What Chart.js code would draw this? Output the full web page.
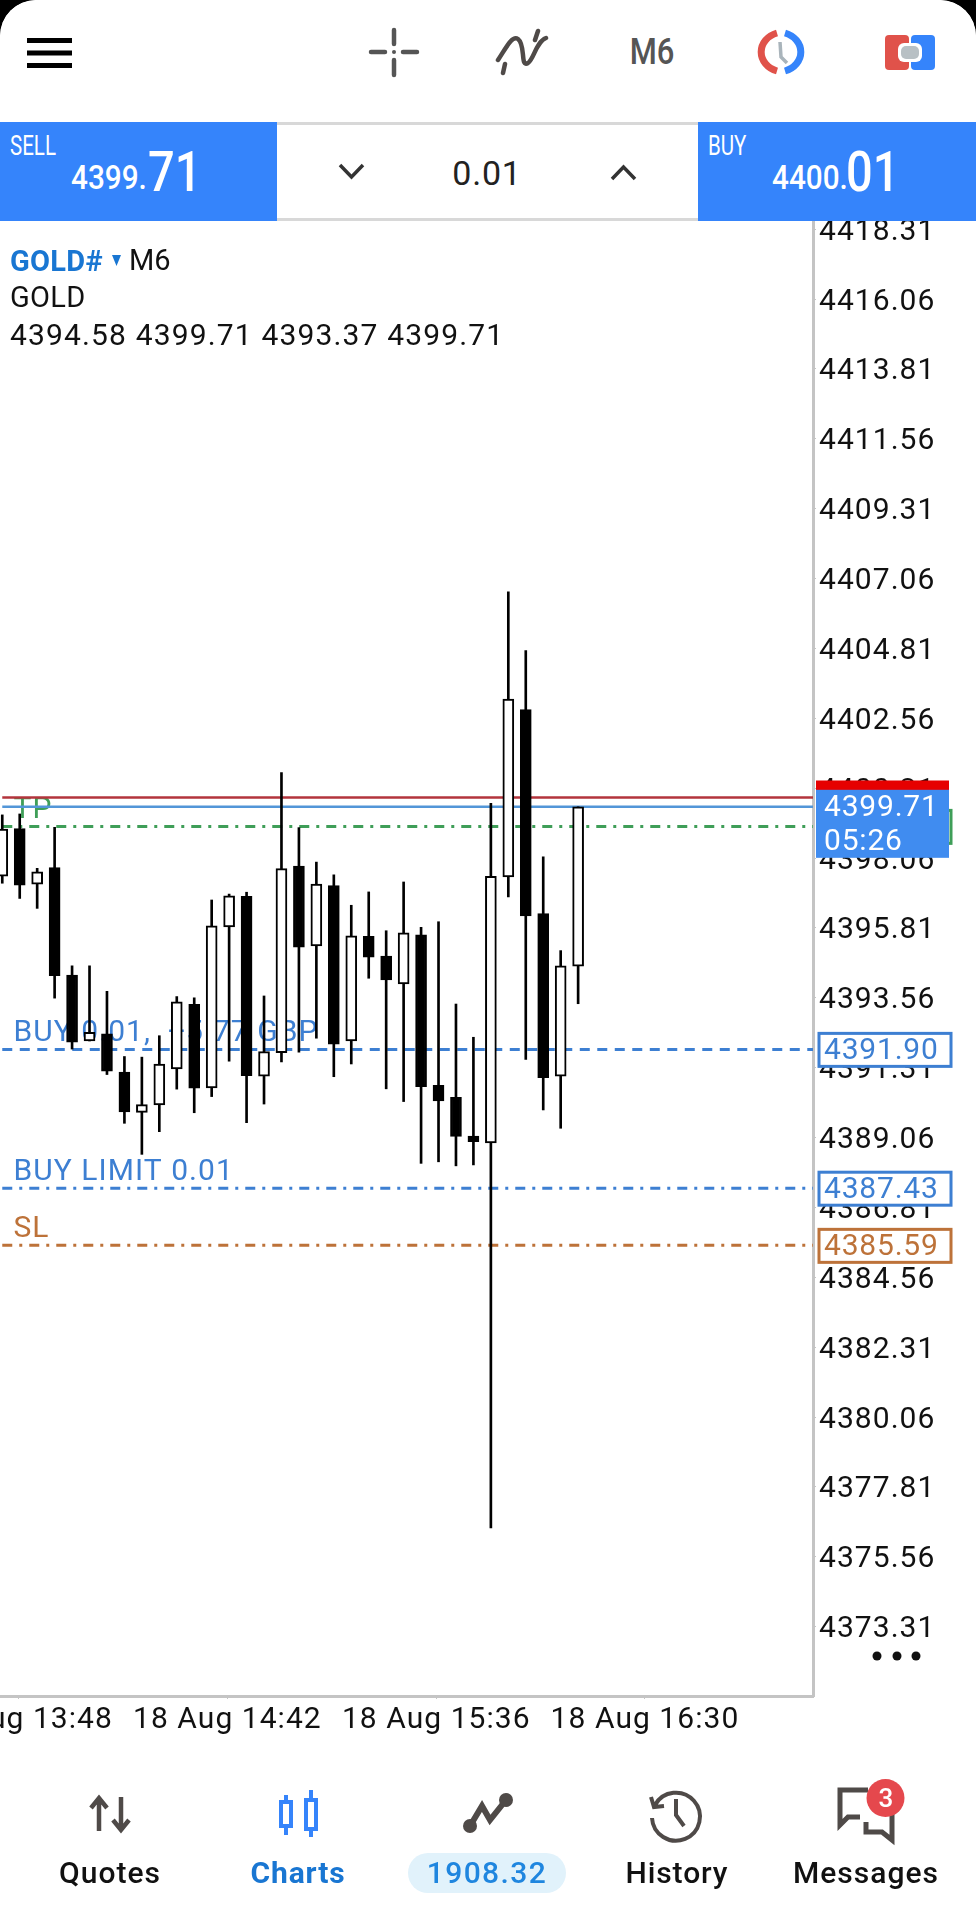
<!DOCTYPE html>
<html>
<head>
<meta charset="utf-8">
<title>GOLD# M6</title>
<style>
  html, body { margin: 0; padding: 0; background: #000; }
  #page { position: relative; width: 976px; height: 1920px; background: #fff; overflow: hidden;
          border-radius: 36px 36px 0 0; font-family: Roboto, sans-serif; }
  #priceChart { position: absolute; left: 0; top: 0; }
  .blk { position: absolute; }
  .t { position: absolute; white-space: nowrap; line-height: 1; transform-origin: left center; }
  .c { text-align: center; transform-origin: center center; }
  svg { position: absolute; left: 0; top: 0; }
</style>
</head>
<body>
<div id="page">
  <canvas id="priceChart" width="976" height="1920"></canvas>

  <div class="blk" style="left:0;top:0;width:976px;height:122px;background:#fff;border-radius:36px 36px 0 0"></div>
  <div class="blk" style="left:277px;top:122px;width:421px;height:99px;background:#fff;border-top:3px solid #d8d8d8;border-bottom:3px solid #d8d8d8;box-sizing:border-box"></div>
  <div class="blk" style="left:0;top:122px;width:277px;height:99px;background:#3584fb"></div>
  <div class="blk" style="left:698px;top:122px;width:278px;height:99px;background:#3584fb"></div>

  <div class="t" style="left:10px;top:133px;font-size:27px;color:#fff;transform:scaleX(.76)">SELL</div>
  <div class="t" style="left:71px;top:161px;font-size:33px;font-weight:500;color:#fff;transform:scaleX(.9)">4399.</div>
  <div class="t" style="left:148px;top:144px;font-size:56px;font-weight:500;color:#fff;transform:scaleX(.84)">71</div>
  <div class="t" style="left:708px;top:133px;font-size:27px;color:#fff;transform:scaleX(.76)">BUY</div>
  <div class="t" style="left:772px;top:161px;font-size:33px;font-weight:500;color:#fff;transform:scaleX(.9)">4400.</div>
  <div class="t" style="left:846px;top:144px;font-size:56px;font-weight:500;color:#fff;transform:scaleX(.84)">01</div>
  <div class="t c" style="left:437px;width:100px;top:156px;font-size:34px;letter-spacing:.8px;color:#222">0.01</div>
  <div class="t c" style="left:602px;width:100px;top:34px;font-size:36px;font-weight:500;color:#555;transform:scaleX(.86)">M6</div>

  <div class="t" style="left:10px;top:247px;font-size:29px;font-weight:700;letter-spacing:.3px;color:#1976d2">GOLD#</div>
  <div class="t" style="left:129px;top:246px;font-size:29px;color:#111">M6</div>
  <div class="t" style="left:10px;top:283px;font-size:29px;letter-spacing:.3px;color:#111">GOLD</div>
  <div class="t" style="left:10px;top:320px;font-size:30px;letter-spacing:1.15px;color:#111">4394.58 4399.71 4393.37 4399.71</div>

  <div class="t c" style="left:30px;width:160px;top:1858px;font-size:30px;font-weight:500;letter-spacing:1px;color:#111">Quotes</div>
  <div class="t c" style="left:218px;width:160px;top:1858px;font-size:30px;font-weight:700;letter-spacing:.9px;color:#1976d2">Charts</div>
  <div class="blk" style="left:408px;top:1853px;width:158px;height:40px;border-radius:20px;background:#e1f2fb"></div>
  <div class="t c" style="left:408px;width:158px;top:1858px;font-size:30px;font-weight:500;letter-spacing:1.4px;color:#1f86df">1908.32</div>
  <div class="t c" style="left:597px;width:160px;top:1858px;font-size:30px;font-weight:500;letter-spacing:.9px;color:#111">History</div>
  <div class="t c" style="left:786px;width:160px;top:1858px;font-size:30px;font-weight:500;letter-spacing:1px;color:#111">Messages</div>

  <svg width="976" height="1920" viewBox="0 0 976 1920" fill="none">
    <!-- top bar -->
    <path d="M27 40.5H72M27 53H72M27 65.5H72" stroke="#000" stroke-width="5"/>
    <path d="M394 30V44M394 60V75M371 52H385M403 52H417" stroke="#555" stroke-width="4.5" stroke-linecap="round"/>
    <circle cx="394" cy="52" r="2" fill="#555"/>
    <path d="M498 60C506 48 512 35 518 39C526 45 520 68 528 63C534 59 536 42 546 38M503 73L505 64M535 40L538 31" stroke="#4f4a48" stroke-width="4.5" stroke-linecap="round"/>
    <path d="M777 33A23 20 0 0 0 777 71" stroke="#e0524a" stroke-width="7"/>
    <path d="M785 33A23 20 0 0 1 785 71" stroke="#3584fb" stroke-width="7"/>
    <path d="M780 42L781 57L787 63" stroke="#a9b4bb" stroke-width="3.5"/>
    <rect x="885" y="35" width="24" height="35" rx="4" fill="#e0524a"/>
    <rect x="911" y="35" width="24" height="35" rx="4" fill="#3584fb"/>
    <rect x="898" y="43" width="24" height="19" rx="6" fill="#fff"/>
    <rect x="901" y="46" width="18" height="13" rx="5" fill="#b8c0c4"/>
    <path d="M340 165L351.5 177L363 165M612 179L623.5 167L635 179" stroke="#333" stroke-width="3.5"/>
    <path d="M112 255H121L116.5 266Z" fill="#1976d2"/>
    <!-- more dots -->
    <circle cx="877" cy="1656" r="4.5" fill="#111"/><circle cx="897" cy="1656" r="4.5" fill="#111"/><circle cx="916" cy="1656" r="4.5" fill="#111"/>
    <!-- bottom bar -->
    <path d="M99 1831V1800M91 1808L99 1798L107 1808M121 1797V1828M113 1820L121 1830L129 1820" stroke="#4f4a48" stroke-width="4.5"/>
    <path d="M286 1795V1835M311 1790V1837" stroke="#3584fb" stroke-width="4"/>
    <rect x="281" y="1802" width="10" height="24" fill="#fff" stroke="#3584fb" stroke-width="4"/>
    <rect x="306" y="1800" width="10" height="29" fill="#fff" stroke="#3584fb" stroke-width="4"/>
    <path d="M470 1826L482 1806L490 1820L506 1800" stroke="#4f4a48" stroke-width="6"/>
    <circle cx="470" cy="1826" r="7" fill="#4f4a48"/><circle cx="506" cy="1800" r="7" fill="#4f4a48"/>
    <path d="M655 1805A24 24 0 1 1 652 1818M651 1797L654 1807L664 1806M676 1799V1815L684 1826" stroke="#4f4a48" stroke-width="4"/>
    <path d="M868 1790H840V1825L848 1817H860M885 1810H892V1840L882 1832H866V1822" stroke="#4f4a48" stroke-width="5"/>
    <circle cx="885.5" cy="1798" r="19" fill="#e5484d"/>
  </svg>
  <div class="t c" style="left:866px;width:40px;top:1785px;font-size:26px;font-weight:500;color:#fff">3</div>
</div>

<script src="https://cdn.jsdelivr.net/npm/chart.js@4"></script>
<script>
const opens = [4397.48,4399.01,4397.22,4397.75,4394.29,4392.17,4392.40,4391.17,4389.87,4390.11,4391.27,4393.35,4390.66,4395.84,4396.83,4391.04,4391.79,4397.80,4395.23,4397.17,4392.17,4395.54,4394.90,4394.01,4395.59,4390.74,4390.36,4389.11,4388.89,4397.45,4402.84,4396.27,4391.04,4394.58];
const highs = [4399.45,4399.48,4397.73,4399.05,4394.59,4394.59,4393.77,4391.67,4391.65,4392.34,4393.60,4393.56,4396.71,4396.90,4396.96,4393.62,4400.81,4399.04,4397.93,4397.52,4396.54,4396.97,4395.72,4397.29,4395.83,4396.01,4393.36,4392.29,4399.82,4406.63,4404.74,4398.10,4395.08,4399.71];
const lows = [4397.25,4396.76,4396.44,4393.55,4391.91,4392.17,4391.09,4389.52,4388.52,4389.25,4390.62,4389.86,4390.38,4391.52,4389.54,4390.14,4391.50,4391.81,4392.26,4391.02,4391.43,4394.19,4390.63,4390.22,4388.23,4388.28,4388.15,4388.18,4376.49,4396.81,4391.58,4389.95,4389.36,4393.37];
const closes = [4398.99,4397.19,4397.62,4394.27,4392.13,4392.45,4391.20,4389.89,4390.12,4391.43,4393.43,4390.65,4395.88,4396.84,4391.05,4391.83,4397.72,4395.19,4397.22,4392.07,4395.56,4394.87,4394.14,4395.65,4390.70,4390.24,4389.10,4388.93,4397.47,4403.18,4396.20,4390.99,4394.59,4399.71];

const yTicks = [4418.31,4416.06,4413.81,4411.56,4409.31,4407.06,4404.81,4402.56,4400.31,4398.06,4395.81,4393.56,4391.31,4389.06,4386.81,4384.56,4382.31,4380.06,4377.81,4375.56,4373.31];
const xTicks = [0.93,12.9,24.87,36.83];
const xTickLabels = ['18 Aug 13:48','18 Aug 14:42','18 Aug 15:36','18 Aug 16:30'];

const askPrice = 4400.01;
const bidPrice = 4399.71;
const tpPrice = 4399.08;
const buyPrice = 4391.90;
const limitPrice = 4387.43;
const slPrice = 4385.59;

const BLUE = '#3d7fd2', GREEN = '#3f9e58', ORANGE = '#bd7239';
const dashDot = [10, 7, 3, 7];
const xMin = -0.13, xMax = 46.46;

function levelLine(price, color, dash, width) {
  return {
    type: 'line',
    data: [{x: 0, y: price}, {x: xMax, y: price}],
    borderColor: color,
    borderWidth: width,
    borderDash: dash,
    pointRadius: 0,
    order: 5
  };
}

// labels under the candles, price boxes over the axis
const orderLabels = {
  id: 'orderLabels',
  beforeDraw(chart) {
    chart.ctx.letterSpacing = '1.05px';
  },
  beforeDatasetsDraw(chart) {
    const {ctx, scales: {y}} = chart;
    ctx.save();
    ctx.font = '30px Roboto';
    ctx.textBaseline = 'alphabetic';
    ctx.textAlign = 'left';
    const rows = [['TP', tpPrice, GREEN], ['BUY 0.01,  +5.77 GBP', buyPrice, BLUE], ['BUY LIMIT 0.01', limitPrice, BLUE], ['SL', slPrice, ORANGE]];
    rows.forEach(([txt, p, col]) => {
      ctx.fillStyle = col;
      ctx.fillText(txt, 13.5, y.getPixelForValue(p) - 8);
    });
    ctx.restore();
  },
  afterDraw(chart) {
    const {ctx, scales: {y}} = chart;
    ctx.save();
    ctx.font = '30px Roboto';
    ctx.textBaseline = 'middle';
    ctx.textAlign = 'left';
    ctx.letterSpacing = '0.8px';
    const box = (p, col, txt) => {
      const py = y.getPixelForValue(p);
      ctx.fillStyle = '#fff';
      ctx.fillRect(819, py - 16, 132, 33);
      ctx.strokeStyle = col;
      ctx.lineWidth = 3;
      ctx.strokeRect(819, py - 16, 132, 33);
      if (txt) {
        ctx.fillStyle = col;
        ctx.fillText(txt, 824, py + 2);
      }
    };
    box(tpPrice, GREEN);
    const askY = y.getPixelForValue(askPrice), bidY = y.getPixelForValue(bidPrice);
    ctx.fillStyle = '#e60000';
    ctx.fillRect(816, askY - 17, 133, 35);
    ctx.fillStyle = '#408cf0';
    ctx.fillRect(816, bidY - 17, 133, 68);
    ctx.fillStyle = '#fff';
    ctx.fillText(bidPrice.toFixed(2), 824, bidY + 2);
    ctx.fillText('05:26', 824, bidY + 36);
    box(buyPrice, BLUE, buyPrice.toFixed(2));
    box(limitPrice, BLUE, limitPrice.toFixed(2));
    box(slPrice, ORANGE, slPrice.toFixed(2));
    ctx.restore();
  }
};

Chart.defaults.font.family = 'Roboto';
Chart.defaults.font.size = 30;
Chart.defaults.color = '#111';

new Chart(document.getElementById('priceChart'), {
  type: 'bar',
  data: {
    datasets: [
      levelLine(askPrice, '#b3343c', [], 2.5),
      levelLine(bidPrice, '#5296d8', [], 2.5),
      levelLine(tpPrice, GREEN, dashDot, 3),
      levelLine(buyPrice, BLUE, [10, 7.5], 3),
      levelLine(limitPrice, BLUE, dashDot, 3),
      levelLine(slPrice, ORANGE, dashDot, 3),
      {
        // wicks
        data: lows.map((l, i) => ({x: i, y: [l, highs[i]]})),
        backgroundColor: '#000',
        barThickness: 2,
        grouped: false,
        order: 2
      },
      {
        // bodies
        data: opens.map((o, i) => ({x: i, y: [o, closes[i]]})),
        backgroundColor: ctx => closes[ctx.dataIndex] >= opens[ctx.dataIndex] ? '#fff' : '#000',
        borderColor: '#000',
        borderWidth: 2,
        borderSkipped: false,
        barThickness: 11,
        grouped: false,
        order: 1
      }
    ]
  },
  options: {
    responsive: false,
    devicePixelRatio: 1,
    animation: false,
    layout: {padding: {top: 222, left: 0, right: 0, bottom: 0}},
    plugins: {legend: {display: false}, tooltip: {enabled: false}},
    scales: {
      x: {
        type: 'linear',
        min: xMin,
        max: xMax,
        offset: false,
        grid: {offset: false, drawOnChartArea: false, tickLength: 3, tickColor: '#c4c4c4'},
        border: {color: '#c4c4c4', width: 3},
        ticks: {
          autoSkip: false,
          maxRotation: 0,
          minRotation: 0,
          padding: 3,
          callback: (v, i) => xTickLabels[i]
        },
        afterBuildTicks: s => { s.ticks = xTicks.map(v => ({value: v})); },
        afterFit: s => { s.height = 224; s.paddingLeft = 0; s.paddingRight = 0; }
      },
      y: {
        position: 'right',
        min: 4371.08,
        max: 4418.54,
        grid: {drawOnChartArea: false, tickLength: 3, tickColor: '#c4c4c4'},
        border: {color: '#c4c4c4', width: 3},
        ticks: {
          autoSkip: false,
          padding: 3,
          labelOffset: 3,
          callback: v => v.toFixed(2)
        },
        afterBuildTicks: s => { s.ticks = yTicks.map(v => ({value: v})); },
        afterFit: s => { s.width = 163; s.paddingTop = 0; s.paddingBottom = 0; }
      }
    }
  },
  plugins: [orderLabels]
});
</script>
</body>
</html>
